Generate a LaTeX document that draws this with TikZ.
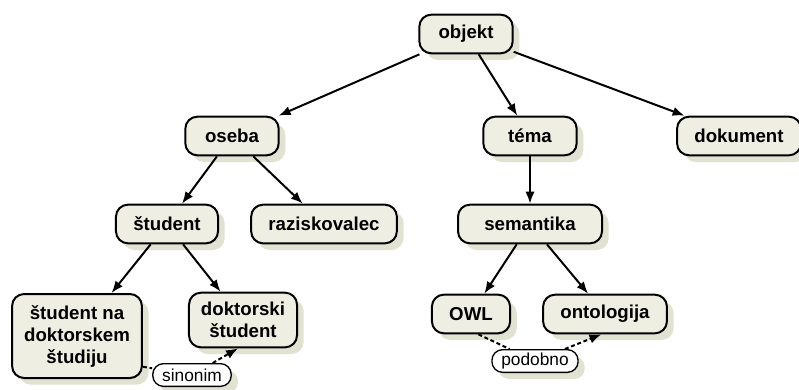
\documentclass[tikz,border=0pt]{standalone}
\usepackage{fontspec}
\setmainfont{Liberation Sans}
\usetikzlibrary{shadows,arrows.meta}
\definecolor{boxfill}{RGB}{238,238,226}
\definecolor{shadowfill}{RGB}{226,226,210}

\begin{document}
\begin{tikzpicture}[>={Latex[length=9pt,width=7pt]}, x=0.75pt, y=-0.75pt,
  box/.style={draw, line width=1.5pt, rounded corners=9pt, fill=boxfill,
    font=\fontsize{14}{16.5}\selectfont\bfseries, inner xsep=13pt, inner ysep=5pt,
    minimum height=29pt, minimum width=70pt, align=center,
    drop shadow={shadow xshift=5pt, shadow yshift=-5pt, fill=shadowfill, opacity=1}},
  lbl/.style={draw, line width=1pt, rounded corners=8pt, fill=white,
    font=\fontsize{13}{15}\selectfont, inner xsep=7pt, inner ysep=2pt, minimum height=17pt,
    drop shadow={shadow xshift=5pt, shadow yshift=-5pt, fill=shadowfill, opacity=1}},
  rel/.style={->, line width=1.5pt},
  sim/.style={line width=1.5pt, dash pattern=on 3pt off 2pt}]
\useasboundingbox (0,0) rectangle (799,389);
% Pojmi
\node[box] (objekt) at (466,34) {objekt};
\node[box] (oseba) at (232,136) {oseba};
\node[box] (tema) at (530,136) {téma};
\node[box] (dokument) at (739,136) {dokument};
\node[box] (student) at (167,224) {študent};
\node[box] (raziskovalec) at (324,224) {raziskovalec};
\node[box, minimum width=108pt] (semantika) at (530,224) {semantika};
\node[box, inner xsep=9pt, minimum height=63pt] (studnadr) at (77,336) {študent na\\doktorskem\\študiju};
\node[box, inner xsep=9pt, minimum height=41pt] (doktorski) at (243,320) {doktorski\\študent};
\node[box, minimum width=57pt] (owl) at (471,314) {OWL};
\node[box] (ontologija) at (605,314) {ontologija};
% Relacije
\node[lbl] (sinonim) at (192,375) {sinonim};
\node[lbl] (podobno) at (535,361) {podobno};
% Hierarhija
\draw[rel] (objekt) -- (oseba);
\draw[rel] (objekt) -- (tema);
\draw[rel] (objekt) -- (dokument);
\draw[rel] (oseba) -- (student);
\draw[rel] (oseba) -- (raziskovalec);
\draw[rel] (tema) -- (semantika);
\draw[rel] (student) -- (studnadr);
\draw[rel] (student) -- (doktorski);
\draw[rel] (semantika) -- (owl);
\draw[rel] (semantika) -- (ontologija);
% Sinonim, podobno
\draw[sim] (studnadr.-25) -- (sinonim);
\draw[sim, ->] (sinonim) -- (doktorski.-100);
\draw[sim] (owl.-70) -- (podobno);
\draw[sim, ->] (podobno) -- (ontologija.-100);
\end{tikzpicture}
\end{document}
